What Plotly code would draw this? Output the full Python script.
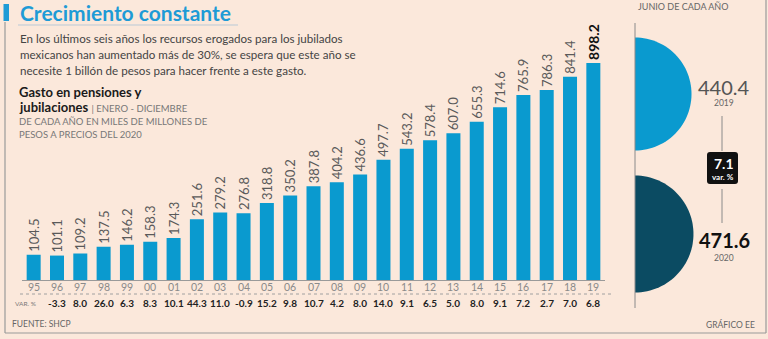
import math
import plotly.graph_objects as go

W, H = 768, 339

years = ["95", "96", "97", "98", "99", "00", "01", "02", "03", "04", "05", "06", "07",
         "08", "09", "10", "11", "12", "13", "14", "15", "16", "17", "18", "19"]
gasto = [104.5, 101.1, 109.2, 137.5, 146.2, 158.3, 174.3, 251.6, 279.2, 276.8, 318.8,
         350.2, 387.8, 404.2, 436.6, 497.7, 543.2, 578.4, 607.0, 655.3, 714.6, 765.9,
         786.3, 841.4, 898.2]
var_pct = ["", "-3.3", "8.0", "26.0", "6.3", "8.3", "10.1", "44.3", "11.0", "-0.9", "15.2",
           "9.8", "10.7", "4.2", "8.0", "14.0", "9.1", "6.5", "5.0", "8.0", "9.1", "7.2",
           "2.7", "7.0", "6.8"]
junio_years = ["2019", "2020"]
junio_vals = [440.4, 471.6]
junio_var = "7.1"

BG = "#FBE8DB"
BLUE = "#0A9ACF"
DARK = "#0B4B62"
FONT = "Lato"


def px(x):
    return x / W


def py(y):
    return 1 - y / H


labels = [f"{v:.1f}" for v in gasto]
labels[-1] = f"<b>{gasto[-1]:.1f}</b>"
label_colors = ["#5a5a5a"] * (len(gasto) - 1) + ["#111111"]
label_sizes = [13] * (len(gasto) - 1) + [14]

fig = go.Figure()
fig.add_trace(go.Bar(
    x=years, y=gasto, marker=dict(color=BLUE, line=dict(width=0)),
    text=labels, textposition="outside", textangle=-90,
    textfont=dict(family=FONT, size=label_sizes, color=label_colors),
    constraintext="none", cliponaxis=False, hoverinfo="skip",
))

annotations = []
shapes = []

# year labels and var row
annotations.append(dict(x=px(13), y=py(303), xref="paper", yref="paper", text="VAR. %",
                        showarrow=False, xanchor="left", yanchor="middle",
                        font=dict(family=FONT, size=6.5, color="#777")))
for i, (yr, v) in enumerate(zip(years, var_pct)):
    annotations.append(dict(x=i, y=py(287), xref="x", yref="paper", text=yr,
                            showarrow=False, xanchor="center", yanchor="middle",
                            font=dict(family=FONT, size=10.5, color="#8a8a8a")))
    if v:
        annotations.append(dict(x=i, y=py(303), xref="x", yref="paper", text=f"<b>{v}</b>",
                                showarrow=False, xanchor="center", yanchor="middle",
                                font=dict(family=FONT, size=10, color="#222")))

def txt(x, y, t, size, color="#444", anchor="left", family=FONT):
    annotations.append(dict(x=px(x), y=py(y), xref="paper", yref="paper", text=t,
                            showarrow=False, xanchor=anchor, yanchor="middle",
                            font=dict(family=family, size=size, color=color)))

# title and texts
txt(18, 12, "<b>Crecimiento constante</b>", 21, "#1E9BD6")
txt(18, 38, "En los últimos seis años los recursos erogados para los jubilados", 11.6, "#444")
txt(18, 54, "mexicanos han aumentado más de 30%, se espera que este año se", 11.6, "#444")
txt(18, 70, "necesite 1 billón de pesos para hacer frente a este gasto.", 11.6, "#444")
txt(17, 92, "<b>Gasto en pensiones y</b>", 13, "#1a1a1a")
txt(17, 107.5, "<b>jubilaciones</b> <span style='font-size:9.5px;color:#777'>| ENERO - DICIEMBRE</span>", 13, "#1a1a1a")
txt(17, 121, "DE CADA AÑO EN MILES DE MILLONES DE", 9.5, "#777")
txt(17, 134, "PESOS A PRECIOS DEL 2020", 9.5, "#777")
txt(10, 324, "FUENTE: SHCP", 8.5, "#666")
txt(757, 324, "GRÁFICO EE", 8.5, "#666", anchor="right")
txt(683, 7, "JUNIO DE CADA AÑO", 9, "#666", anchor="center")

# right panel values
txt(724, 87, junio_vals[0], 20, "#555", anchor="center")
txt(724, 103, junio_years[0], 8.5, "#666", anchor="center")
txt(724, 163, f"<b>{junio_var}</b>", 14, "#fff", anchor="center")
txt(723, 177, "<b>var. %</b>", 8, "#fff", anchor="center")
txt(724, 240, f"<b>{junio_vals[1]}</b>", 20, "#111", anchor="center")
txt(724, 258, junio_years[1], 8.5, "#666", anchor="center")

# frame lines
def line(x0, y0, x1, y1, color="#999", width=1, dash="solid"):
    shapes.append(dict(type="line", xref="paper", yref="paper", x0=px(x0), y0=py(y0),
                       x1=px(x1), y1=py(y1), line=dict(color=color, width=width, dash=dash)))

line(5, 22, 5, 333, "#9a9a9a", 1.2)
line(5, 333, 766, 333, "#9a9a9a", 1.2)
line(766, 0, 766, 333, "#9a9a9a", 1.2)
shapes.append(dict(type="rect", xref="paper", yref="paper", x0=px(3.5), x1=px(9),
                   y0=py(21), y1=py(4), fillcolor="#1E9BD6", line=dict(width=0)))
line(18, 25, 238, 25, "#b9c9d6", 1)
line(20, 294, 612, 294, "#a0a0a0", 1, "dot")
line(635, 23, 635, 308, "#8a8a8a", 1)
line(722, 116, 722, 151, "#8a8a8a", 1)
line(722, 189, 722, 223, "#8a8a8a", 1)

# black rounded box
bx0, bx1, by0, by1, rr = 707, 738, 152, 184, 3
path = (f"M{px(bx0+rr)},{py(by0)} L{px(bx1-rr)},{py(by0)} Q{px(bx1)},{py(by0)} {px(bx1)},{py(by0+rr)} "
        f"L{px(bx1)},{py(by1-rr)} Q{px(bx1)},{py(by1)} {px(bx1-rr)},{py(by1)} "
        f"L{px(bx0+rr)},{py(by1)} Q{px(bx0)},{py(by1)} {px(bx0)},{py(by1-rr)} "
        f"L{px(bx0)},{py(by0+rr)} Q{px(bx0)},{py(by0)} {px(bx0+rr)},{py(by0)} Z")
shapes.insert(0, dict(type="path", xref="paper", yref="paper", path=path,
                      fillcolor="#111", line=dict(width=0)))

# semicircles, area proportional to value
k = 56.5 / math.sqrt(junio_vals[0])
centers = [94, 234]
for val, cy, col in zip(junio_vals, centers, [BLUE, DARK]):
    r = k * math.sqrt(val)
    pts = []
    for i in range(61):
        a = -math.pi / 2 + math.pi * i / 60
        pts.append((635 + r * math.cos(a), cy + r * math.sin(a)))
    p = "M" + " L".join(f"{px(x)},{py(y)}" for x, y in pts) + " Z"
    shapes.insert(0, dict(type="path", xref="paper", yref="paper", path=p,
                          fillcolor=col, line=dict(width=0)))

fig.update_layout(
    width=W, height=H, margin=dict(l=0, r=0, t=0, b=0),
    paper_bgcolor=BG, plot_bgcolor=BG, showlegend=False, bargap=0.4,
    xaxis=dict(domain=[px(22), px(605)], type="category", range=[-0.5, len(years) - 0.5],
               showgrid=False, zeroline=False, showticklabels=False,
               showline=True, linecolor="#9a9a9a", linewidth=1.2, ticks=""),
    yaxis=dict(domain=[py(280), py(38.4)], range=[0, 1000], visible=False),
    annotations=annotations, shapes=shapes,
)

fig.write_html("out.html")
